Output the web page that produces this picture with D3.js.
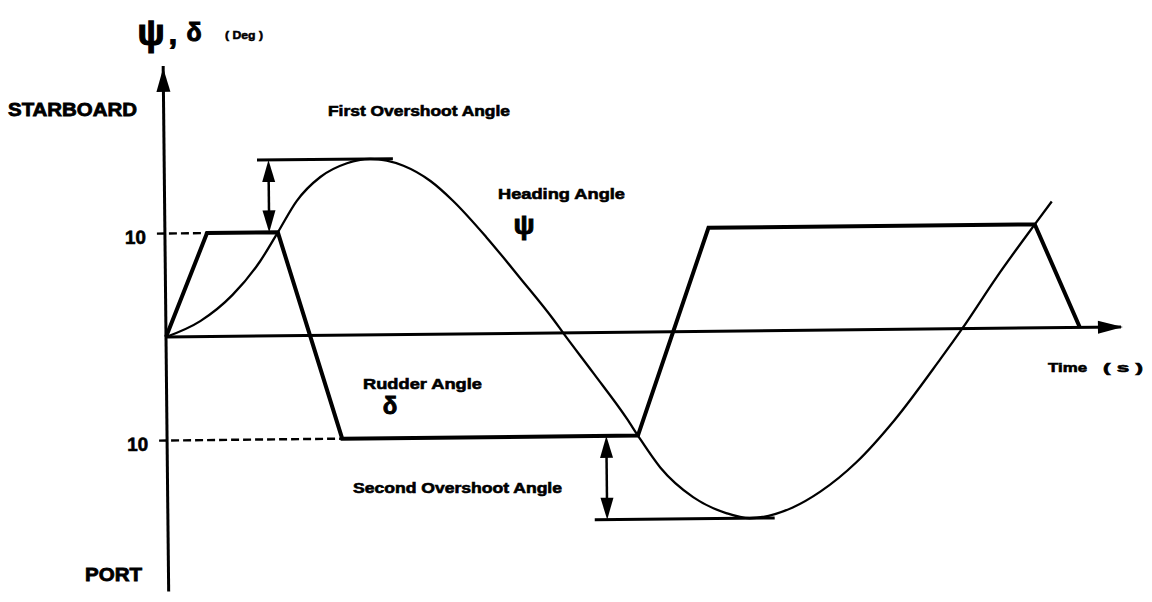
<!DOCTYPE html>
<html><head><meta charset="utf-8">
<script src="https://cdn.jsdelivr.net/npm/d3@7"></script>
<style>
html,body{margin:0;padding:0;background:#fff;}
svg{display:block;}
text{font-family:"Liberation Sans",Arial,sans-serif;font-weight:bold;fill:#000;}
</style></head><body>
<svg id="chart" width="1152" height="602"></svg>
<script>
// ---- data (time in s, angles in deg) ----
const rudderTime  = [0, 4.4, 11.8, 18.3, 49.2, 56.8, 90.9, 95.5];
const rudderAngle = [0, 10, 10, -10, -10, 10, 10, 0];

const headingTime  = [0, 3.6, 7.0, 9.9, 11.8, 13.8, 16.3, 19.1, 21.5, 25.0, 27.8, 30.1, 33.6, 37.1, 40.5, 41.5, 44.6, 48.1, 49.2, 51.5, 54.9, 58.4, 60.8, 65.3, 68.2, 72.0, 76.0, 80.9, 83.2, 86.9, 90.9, 92.7];
const headingAngle = [0, 1.5, 4.0, 7.2, 10.0, 13.0, 15.3, 16.6, 17.0, 16.3, 14.8, 12.9, 9.3, 5.3, 1.3, 0, -3.9, -8.4, -10.0, -13.1, -16.0, -17.6, -18.1, -17.1, -15.6, -12.8, -8.8, -2.9, 0, 5.0, 10.0, 12.2];

const tickValues = [10, -10];
const tickLabels = ["10", "10"];
const tickLineEnd = [4.4, 18.3];          // dashed guide runs to the rudder corner

const overshootLevel = [17.0, -18.1];
const overshootStart = [9.7, 44.6];
const overshootEnd   = [23.9, 63.4];
const overshootArrowTime = [10.9, 45.9];
const overshootFrom  = [10, -10];

const axisMin = -24.6, axisMax = 26, timeMax = 100;

// ---- scales ----
const x = d3.scaleLinear().domain([0, 100]).range([166, 1123]);
const y = d3.scaleLinear().domain([-25, 25]).range([595.75, 78.25]);

const svg = d3.select("#chart");
svg.append("rect").attr("width",1152).attr("height",602).attr("fill","#fff");

const g = svg.append("g").attr("transform", `rotate(-0.6, ${x(0)}, ${y(0)})`);

function arrowHead(tx, ty, dx, dy, len, hw) {
  const bx = tx - dx*len, by = ty - dy*len;
  const px = -dy*hw, py = dx*hw;
  return `M${tx},${ty}L${bx+px},${by+py}L${bx-px},${by-py}Z`;
}

// dashed guides + tick labels
tickValues.forEach((v,i) => {
  g.append("line")
    .attr("x1", x(0) - 8).attr("x2", x(tickLineEnd[i]))
    .attr("y1", y(v)).attr("y2", y(v))
    .attr("stroke","#000").attr("stroke-width",2.4).attr("stroke-dasharray","8,4");
  g.append("text").attr("x", x(0) - 19).attr("y", y(v) + 10)
    .attr("text-anchor","end").attr("font-size",19)
    .attr("textLength",21).attr("lengthAdjust","spacingAndGlyphs")
    .attr("stroke","#000").attr("stroke-width",0.6)
    .text(tickLabels[i]);
});

// vertical axis
g.append("line").attr("x1",x(0)).attr("x2",x(0)).attr("y1",y(axisMin)).attr("y2",y(axisMax)-2)
  .attr("stroke","#000").attr("stroke-width",3);
g.append("path").attr("d", arrowHead(x(0), y(axisMax), 0, -1, 24, 7)).attr("fill","#000");

// horizontal axis
g.append("line").attr("x1",x(0)).attr("x2",x(timeMax)-2).attr("y1",y(0)).attr("y2",y(0))
  .attr("stroke","#000").attr("stroke-width",3);
g.append("path").attr("d", arrowHead(x(timeMax), y(0), 1, 0, 25, 6.5)).attr("fill","#000");

// rudder angle
const rudderLine = d3.line().x(d=>x(d[0])).y(d=>y(d[1]));
g.append("path").datum(rudderTime.map((t,i)=>[t, rudderAngle[i]]))
  .attr("d", rudderLine).attr("fill","none").attr("stroke","#000")
  .attr("stroke-width",4).attr("stroke-linejoin","miter");

// heading angle
const headingLine = d3.line().x(d=>x(d[0])).y(d=>y(d[1])).curve(d3.curveMonotoneX);
g.append("path").datum(headingTime.map((t,i)=>[t, headingAngle[i]]))
  .attr("d", headingLine).attr("fill","none").attr("stroke","#000").attr("stroke-width",2.3);

// overshoot markers
overshootLevel.forEach((v,i) => {
  g.append("line").attr("x1",x(overshootStart[i])).attr("x2",x(overshootEnd[i]))
    .attr("y1",y(v)).attr("y2",y(v)).attr("stroke","#000").attr("stroke-width",3);
  const ax = x(overshootArrowTime[i]);
  const y1 = y(overshootFrom[i]), y2 = y(v);
  const dir = y2 < y1 ? -1 : 1;
  g.append("line").attr("x1",ax).attr("x2",ax).attr("y1",y1 + dir*10).attr("y2",y2 - dir*10)
    .attr("stroke","#000").attr("stroke-width",2.5);
  g.append("path").attr("d", arrowHead(ax, y2, 0, dir, 22, 6.5)).attr("fill","#000");
  g.append("path").attr("d", arrowHead(ax, y1, 0, -dir, 22, 6.5)).attr("fill","#000");
});

// ---- text annotations ----
function label(txt, xx, yy, size, len, sw, anchor) {
  const t = svg.append("text").attr("x",xx).attr("y",yy).attr("font-size",size)
    .attr("stroke","#000").attr("stroke-width",sw)
    .attr("text-anchor", anchor || "start").text(txt);
  if (len) t.attr("textLength",len).attr("lengthAdjust","spacingAndGlyphs");
  return t;
}
label("STARBOARD", 8, 116, 19, 129, 0.8);
label("PORT", 85, 581, 19, 57, 0.8);
label("First Overshoot Angle", 328, 116, 14, 182, 0.6);
label("Heading Angle", 498, 199, 15, 127, 0.6);
label("Rudder Angle", 363, 389, 15, 119, 0.6);
label("Second Overshoot Angle", 353, 493, 14, 209, 0.6);
label("Time", 1048, 372, 13, 39, 0.6);
label("( s )", 1103, 372, 13, 40, 0.6);
label("( Deg )", 225, 39, 11, 38, 0.5);

// greek symbols
const greek = (txt, xx, yy, size, sw) => svg.append("text").attr("x",xx).attr("y",yy)
  .attr("font-family","'DejaVu Sans', sans-serif").attr("font-weight","normal")
  .attr("font-size",size).attr("text-anchor","middle")
  .attr("stroke","#000").attr("stroke-width",sw).text(txt);
greek("ψ", 151, 45, 36, 1.2);
greek(",", 173, 44, 30, 1.2);
greek("δ", 194, 41, 25, 1.0);
greek("ψ", 524, 234, 28, 1.0);
greek("δ", 390, 414, 24, 0.9);
</script>
</body></html>
